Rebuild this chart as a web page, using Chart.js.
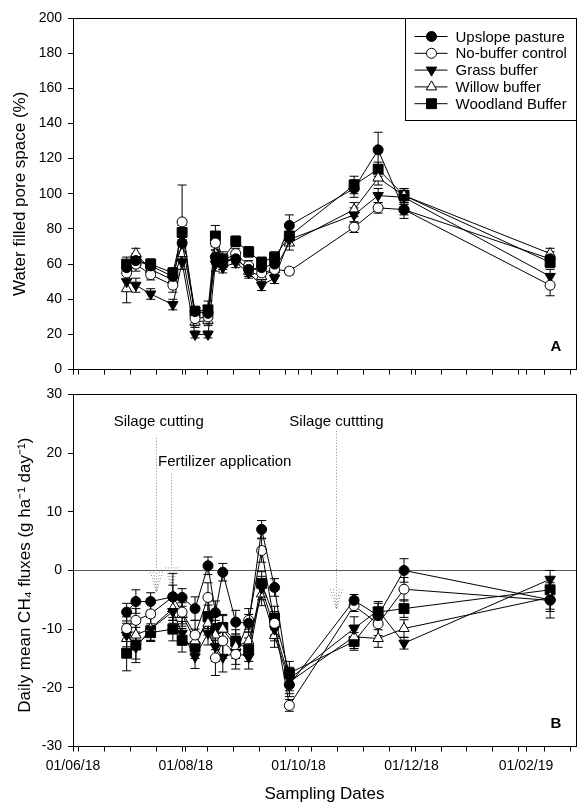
<!DOCTYPE html>
<html>
<head>
<meta charset="utf-8">
<title>WFPS and CH4 fluxes</title>
<script src="https://cdn.jsdelivr.net/npm/chart.js@4.4.1/dist/chart.umd.min.js"></script>
<style>
  body { margin: 0; background: #fff; }
  #wrap { position: relative; width: 584px; height: 809px; }
  canvas { position: absolute; left: 0; }
  #top { top: 0; }
  #bot { top: 380px; }
</style>
</head>
<body>
<div id="wrap">
  <canvas id="top" width="584" height="384"></canvas>
  <canvas id="bot" width="584" height="429"></canvas>
</div>
<script>
// sampling dates (shared by both panels)
const samplingDates = ['2018-06-30','2018-07-05','2018-07-13','2018-07-25','2018-07-30','2018-08-06',
  '2018-08-13','2018-08-17','2018-08-21','2018-08-28','2018-09-04','2018-09-11','2018-09-18',
  '2018-09-26','2018-10-31','2018-11-13','2018-11-27','2019-02-14'];

const seriesNames = ['Upslope pasture', 'No-buffer control', 'Grass buffer', 'Willow buffer', 'Woodland Buffer'];

// x axis
const axisStart = '2018-06-01';
const axisEnd = '2019-02-28';
const majorTickDates = ['2018-06-01', '2018-08-01', '2018-10-01', '2018-12-01', '2019-02-01'];
const majorTickLabels = ['01/06/18', '01/08/18', '01/10/18', '01/12/18', '01/02/19'];

// panel A - water filled pore space (%)
const wfpsUpslope  = [58, 62, 59, 53, 72, 33, 32, 64, 62, 63, 57, 58, 60, 82, 103, 125, 91, 63];
const wfpsNoBuffer = [55, 60, 54, 48, 84, 29, 30, 72, 62, 66, 59, 55, 57, 56, 81, 92, 91, 48];
const wfpsGrass    = [50, 48, 43, 37, 61, 20, 20, 60, 58, 61, 55, 48, 52, 74, 88, 99, 98, 53];
const wfpsWillow   = [46, 66, 57, 51, 66, 27, 28, 66, 60, 64, 56, 53, 57, 72, 91, 109, 99, 66];
const wfpsWoodland = [60, 62, 60, 55, 78, 33, 34, 76, 63, 73, 67, 61, 64, 76, 105, 114, 99, 61];

const wfpsErrUpslope  = [3, 3, 2, 3, 5, 3, 3, 4, 3, 3, 3, 3, 3, 6, 5, 10, 5, 4];
const wfpsErrNoBuffer = [4, 4, 3, 4, 21, 4, 4, 4, 3, 3, 3, 3, 3, 2, 3, 3, 3, 6];
const wfpsErrGrass    = [5, 4, 3, 3, 4, 2, 2, 4, 3, 3, 3, 3, 3, 3, 4, 4, 4, 4];
const wfpsErrWillow   = [8, 3, 3, 3, 4, 3, 3, 4, 3, 3, 3, 3, 3, 4, 4, 4, 4, 3];
const wfpsErrWoodland = [4, 4, 3, 3, 4, 3, 5, 6, 4, 3, 3, 3, 3, 5, 5, 4, 4, 3];

// panel B - daily mean CH4 fluxes (g ha-1 day-1)
const ch4Upslope  = [-7.1, -5.3, -5.3, -4.5, -4.6, -6.5, 0.8, -7.2, -0.3, -8.8, -9, 7, -2.9, -19.5, -5.1, -7.7, 0, -5];
const ch4NoBuffer = [-9.9, -8.5, -7.4, -4.5, -7.1, -11, -4.6, -14.9, -12, -14.3, -8.5, 3.4, -9, -23, -6, -9.1, -3.2, -5.1];
const ch4Grass    = [-11, -13.1, -10, -7, -10.7, -14.7, -10.7, -13, -14.8, -14, -14.8, -3, -10, -18.5, -9.9, -6.8, -12.4, -1.5];
const ch4Willow   = [-11.6, -11, -9.9, -6.5, -7.5, -12, -9, -11, -10, -13, -12, -4, -11.1, -19, -11.3, -11.6, -9.9, -4.6];
const ch4Woodland = [-14.1, -12.7, -10.6, -10, -11.9, -13, -7.9, -9.9, -9.7, -12.1, -13.5, -2.2, -8.1, -17.5, -12.1, -7.1, -6.5, -3.3];

const ch4ErrUpslope  = [1.5, 2, 1.5, 2, 1.5, 2, 1.5, 2, 1.5, 2, 1.5, 1.5, 1.5, 2, 1, 1.5, 2, 2];
const ch4ErrNoBuffer = [2, 2, 2, 4, 2, 2.5, 2.5, 3, 3, 2.5, 2, 2, 2, 1, 1, 2, 2, 3];
const ch4ErrGrass    = [2, 2, 2, 2, 2, 2, 2, 2.5, 2.5, 2, 2, 2, 2, 2, 2, 1.5, 1, 1.5];
const ch4ErrWillow   = [2, 2, 2, 2, 2, 2, 2, 2.5, 2.5, 2, 2, 2, 2, 2, 2, 1.5, 1.5, 2];
const ch4ErrWoodland = [3, 3, 1.5, 2, 2, 2, 2, 2.5, 2, 2, 2, 2, 2, 2, 1.5, 1.5, 1.5, 2];

const FONT = '"Liberation Sans", Arial, sans-serif';
Chart.defaults.font.family = FONT;
Chart.defaults.color = '#000';

function dayOf(s) {
  const [y, m, d] = s.split('-').map(Number);
  return (Date.UTC(y, m - 1, d) - Date.UTC(2018, 5, 1)) / 864e5;
}

// marker look per series
const markers = [
  { pointStyle: 'circle', pointRadius: 5, pointBackgroundColor: '#000', pointRotation: 0 },
  { pointStyle: 'circle', pointRadius: 5, pointBackgroundColor: '#fff', pointRotation: 0 },
  { pointStyle: 'triangle', pointRadius: 6, pointBackgroundColor: '#000', pointRotation: 180 },
  { pointStyle: 'triangle', pointRadius: 6, pointBackgroundColor: '#fff', pointRotation: 0 },
  { pointStyle: 'rect', pointRadius: 7, pointBackgroundColor: '#000', pointRotation: 0 }
];

function makeDatasets(values, errs) {
  return values.map((vals, k) => Object.assign({
    label: seriesNames[k],
    data: samplingDates.map((d, i) => ({ x: dayOf(d), y: vals[i] })),
    errs: errs[k],
    borderColor: '#000',
    borderWidth: 1,
    pointBorderColor: '#000',
    pointBorderWidth: 1,
    pointHoverRadius: 5,
    tension: 0
  }, markers[k]));
}

function drawMarker(ctx, ds, x, y) {
  const r = ds.pointRadius;
  ctx.beginPath();
  if (ds.pointStyle === 'circle') {
    ctx.arc(x, y, r, 0, Math.PI * 2);
  } else if (ds.pointStyle === 'rect') {
    const s = r / Math.SQRT2;
    ctx.rect(x - s, y - s, 2 * s, 2 * s);
  } else {
    let a = ds.pointRotation * Math.PI / 180;
    for (let k = 0; k < 3; k++) {
      const px = x + Math.sin(a) * r, py = y - Math.cos(a) * r;
      if (k === 0) ctx.moveTo(px, py); else ctx.lineTo(px, py);
      a += Math.PI * 2 / 3;
    }
    ctx.closePath();
  }
  ctx.fillStyle = ds.pointBackgroundColor;
  ctx.fill();
  ctx.stroke();
}

// vertical error bars with caps
const errorBars = {
  id: 'errorBars',
  beforeDatasetsDraw(chart) {
    const ctx = chart.ctx, ys = chart.scales.y;
    ctx.save();
    ctx.strokeStyle = '#000';
    ctx.lineWidth = 1;
    chart.data.datasets.forEach((ds, k) => {
      chart.getDatasetMeta(k).data.forEach((pt, i) => {
        const v = ds.data[i].y, e = ds.errs[i];
        const y1 = ys.getPixelForValue(v - e), y2 = ys.getPixelForValue(v + e);
        ctx.beginPath();
        ctx.moveTo(pt.x, y1); ctx.lineTo(pt.x, y2);
        ctx.moveTo(pt.x - 4.5, y1); ctx.lineTo(pt.x + 4.5, y1);
        ctx.moveTo(pt.x - 4.5, y2); ctx.lineTo(pt.x + 4.5, y2);
        ctx.stroke();
      });
    });
    ctx.restore();
  }
};

// box around plot + panel letter
const frame = {
  id: 'frame',
  afterDraw(chart, args, opts) {
    const ctx = chart.ctx, a = chart.chartArea;
    ctx.save();
    ctx.strokeStyle = '#000';
    ctx.lineWidth = 1;
    ctx.beginPath();
    ctx.moveTo(a.left, Math.round(a.top) + 0.5);
    ctx.lineTo(Math.round(a.right) + 0.5, Math.round(a.top) + 0.5);
    ctx.lineTo(Math.round(a.right) + 0.5, a.bottom);
    ctx.stroke();
    ctx.font = 'bold 15px ' + FONT;
    ctx.fillStyle = '#000';
    ctx.textAlign = 'center';
    ctx.textBaseline = 'middle';
    ctx.fillText(opts.letter, a.right - 20, a.bottom - 23);
    ctx.restore();
  }
};

// legend box in the top right corner of panel A
const boxLegend = {
  id: 'boxLegend',
  afterDraw(chart) {
    const ctx = chart.ctx, a = chart.chartArea;
    const w = 171, h = 102;
    const x0 = Math.round(a.right - w) + 0.5, y0 = Math.round(a.top) + 0.5;
    ctx.save();
    ctx.fillStyle = '#fff';
    ctx.fillRect(x0, y0, w, h);
    ctx.strokeStyle = '#000';
    ctx.lineWidth = 1;
    ctx.strokeRect(x0, y0, w, h);
    ctx.font = '15px ' + FONT;
    ctx.textBaseline = 'middle';
    ctx.textAlign = 'left';
    chart.data.datasets.forEach((ds, i) => {
      const y = y0 + 18 + i * 16.8;
      ctx.beginPath();
      ctx.moveTo(x0 + 9, y); ctx.lineTo(x0 + 42, y);
      ctx.stroke();
      drawMarker(ctx, ds, x0 + 26, y);
      ctx.fillStyle = '#000';
      ctx.fillText(ds.label, x0 + 50, y + 1);
    });
    ctx.restore();
  }
};

// silage / fertilizer notes on panel B
const noteTexts = [
  { text: 'Silage cutting', date: '2018-06-23', y: 25.3 },
  { text: 'Fertilizer application', date: '2018-07-17', y: 18.5 },
  { text: 'Silage cuttting', date: '2018-09-26', y: 25.3 }
];
const noteArrows = [
  { date: '2018-07-16', from: 22.6, to: -3.7 },
  { date: '2018-07-24', from: 16.4, to: -2.9 },
  { date: '2018-10-21', from: 23.8, to: -6.6 }
];
const notes = {
  id: 'notes',
  beforeDatasetsDraw(chart) {
    const ctx = chart.ctx, xs = chart.scales.x, ys = chart.scales.y;
    ctx.save();
    ctx.font = '15px ' + FONT;
    ctx.fillStyle = '#000';
    ctx.textAlign = 'left';
    ctx.textBaseline = 'middle';
    noteTexts.forEach(n => ctx.fillText(n.text, xs.getPixelForValue(dayOf(n.date)), ys.getPixelForValue(n.y)));
    ctx.strokeStyle = '#8a8a8a';
    ctx.lineWidth = 1;
    ctx.setLineDash([1, 2]);
    noteArrows.forEach(n => {
      const x = Math.round(xs.getPixelForValue(dayOf(n.date))) + 0.5;
      const y1 = ys.getPixelForValue(n.from), y2 = ys.getPixelForValue(n.to);
      ctx.beginPath();
      ctx.moveTo(x, y1); ctx.lineTo(x, y2);
      ctx.moveTo(x - 6, y2 - 20); ctx.lineTo(x, y2);
      ctx.moveTo(x + 6, y2 - 20); ctx.lineTo(x, y2);
      ctx.moveTo(x - 3, y2 - 20); ctx.lineTo(x, y2);
      ctx.moveTo(x + 3, y2 - 20); ctx.lineTo(x, y2);
      ctx.stroke();
    });
    ctx.restore();
  }
};

function xAxis(showLabels, height) {
  const majors = majorTickDates.map(dayOf);
  const minors = [];
  for (let d = dayOf('2018-06-04'); d <= dayOf(axisEnd); d += 14) minors.push(d);
  return {
    type: 'linear',
    min: dayOf(axisStart),
    max: dayOf(axisEnd),
    afterBuildTicks: s => {
      s.ticks = majors.concat(minors).sort((a, b) => a - b).map(v => ({ value: v }));
    },
    afterFit: s => { s.height = height; },
    ticks: {
      display: showLabels,
      autoSkip: false,
      maxRotation: 0,
      padding: 6,
      font: { size: 14 },
      callback: v => {
        const i = majors.indexOf(v);
        return i >= 0 ? majorTickLabels[i] : '';
      }
    },
    grid: { drawOnChartArea: false, tickLength: 5, tickColor: '#000' },
    border: { color: '#000', width: 1 },
    title: {
      display: showLabels,
      text: 'Sampling Dates',
      font: { size: 17 },
      padding: { top: 0, bottom: 4 }
    }
  };
}

function yAxis(min, max, step, title, titlePad, zeroLine) {
  return {
    min: min, max: max,
    afterFit: s => { s.width = 73; },
    ticks: { stepSize: step, padding: 6, font: { size: 14 } },
    grid: {
      drawOnChartArea: zeroLine,
      color: c => (zeroLine && c.tick && c.tick.value === 0) ? '#555' : 'rgba(0,0,0,0)',
      tickLength: 5,
      tickColor: '#000'
    },
    border: { color: '#000', width: 1 },
    title: { display: true, text: title, font: { size: 17 }, padding: { top: titlePad, bottom: 0 } }
  };
}

const baseOptions = {
  responsive: false,
  animation: false,
  events: [],
  plugins: { legend: { display: false }, tooltip: { enabled: false } }
};

new Chart(document.getElementById('top'), {
  type: 'line',
  data: {
    datasets: makeDatasets(
      [wfpsUpslope, wfpsNoBuffer, wfpsGrass, wfpsWillow, wfpsWoodland],
      [wfpsErrUpslope, wfpsErrNoBuffer, wfpsErrGrass, wfpsErrWillow, wfpsErrWoodland])
  },
  options: Object.assign({}, baseOptions, {
    layout: { padding: { top: 18, right: 2, left: 0, bottom: 0 } },
    plugins: Object.assign({}, baseOptions.plugins, { frame: { letter: 'A' } }),
    scales: {
      x: xAxis(false, 8),
      y: yAxis(0, 200, 20, 'Water filled pore space (%)', 10, false)
    }
  }),
  plugins: [errorBars, frame, boxLegend]
});

new Chart(document.getElementById('bot'), {
  type: 'line',
  data: {
    datasets: makeDatasets(
      [ch4Upslope, ch4NoBuffer, ch4Grass, ch4Willow, ch4Woodland],
      [ch4ErrUpslope, ch4ErrNoBuffer, ch4ErrGrass, ch4ErrWillow, ch4ErrWoodland])
  },
  options: Object.assign({}, baseOptions, {
    layout: { padding: { top: 9, right: 2, left: 0, bottom: 0 } },
    plugins: Object.assign({}, baseOptions.plugins, { frame: { letter: 'B' } }),
    scales: {
      x: xAxis(true, 62.5),
      y: yAxis(-30, 30, 10, 'Daily mean CH\u2084 fluxes (g ha\u207B\u00B9 day\u207B\u00B9)  ', 15, true)
    }
  }),
  plugins: [notes, errorBars, frame]
});
</script>
</body>
</html>
